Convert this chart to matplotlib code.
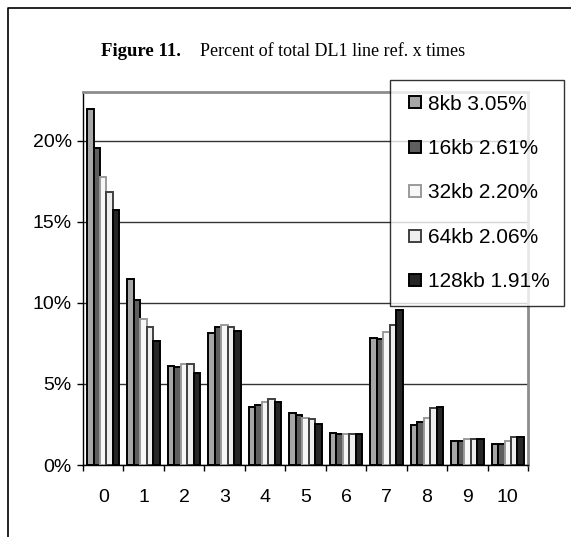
import numpy as np
import matplotlib
matplotlib.use("Agg")
import matplotlib.pyplot as plt
from matplotlib.lines import Line2D
from matplotlib.ticker import FuncFormatter

# times a DL1 line is referenced
refs = ['0', '1', '2', '3', '4', '5', '6', '7', '8', '9', '10']

labels = ['8kb 3.05%', '16kb 2.61%', '32kb 2.20%', '64kb 2.06%', '128kb 1.91%']

kb8 = [21.95, 11.45, 6.1, 8.15, 3.6, 3.2, 2.0, 7.85, 2.45, 1.5, 1.3]
kb16 = [19.55, 10.2, 6.05, 8.5, 3.7, 3.1, 1.9, 7.75, 2.65, 1.5, 1.28]
kb32 = [17.75, 9.0, 6.2, 8.65, 3.9, 2.9, 1.9, 8.2, 2.9, 1.6, 1.5]
kb64 = [16.85, 8.5, 6.25, 8.5, 4.05, 2.85, 1.9, 8.65, 3.5, 1.6, 1.7]
kb128 = [15.7, 7.65, 5.7, 8.25, 3.9, 2.55, 1.9, 9.55, 3.55, 1.6, 1.75]

series = [kb8, kb16, kb32, kb64, kb128]
faces = ['#a6a6a6', '#5e5e5e', '#f7f7f7', '#eeeeee', '#262626']
edges = ['#000000', '#000000', '#9a9a9a', '#404040', '#000000']

plt.rcParams['font.family'] = ['Liberation Sans', 'DejaVu Sans']

fig = plt.figure(figsize=(5.71, 5.37), dpi=100)
ax = fig.add_axes([83 / 571, 1 - 465 / 537, 445 / 571, 373 / 537])

x = np.arange(len(refs))
w = 0.16
for i, vals in enumerate(series):
    ax.bar(x + (i - 2) * w, vals, width=w, color=faces[i], edgecolor=edges[i],
           linewidth=1.4, zorder=3)

ax.set_xlim(-0.5, 10.5)
ax.set_ylim(0, 23)
ax.set_yticks([0, 5, 10, 15, 20])
ax.yaxis.set_major_formatter(FuncFormatter(lambda v, p: '%d%%' % v))
ax.grid(axis='y', color='#333333', linewidth=1.0, zorder=0)

# category labels in the middle, tick marks between the groups
ax.set_xticks(x)
ax.set_xticklabels(refs)
ax.set_xticks(np.arange(-0.5, 11, 1), minor=True)
ax.tick_params(axis='x', which='major', length=0, pad=17, labelsize=14)
ax.tick_params(axis='x', which='minor', length=4, width=1, direction='out')
ax.tick_params(axis='y', length=4, width=1, direction='out', pad=4, labelsize=14)

for s in ['top', 'right']:
    ax.spines[s].set_color('#8c8c8c')
    ax.spines[s].set_linewidth(2)
for s in ['left', 'bottom']:
    ax.spines[s].set_color('#000000')
    ax.spines[s].set_linewidth(1)

# title: bold figure number, plain caption
fig.text(101 / 571, 1 - 52 / 537, 'Figure 11.', family='Liberation Serif',
         weight='bold', fontsize=13.5, va='center', ha='left')
fig.text(200 / 571, 1 - 52 / 537, 'Percent of total DL1 line ref. x times',
         family='Liberation Serif', fontsize=13, va='center', ha='left')

# outer frame of the chart
fig.add_artist(Line2D([8 / 571, 8 / 571, 1], [0, 1 - 8 / 537, 1 - 8 / 537],
                      transform=fig.transFigure, color='black', linewidth=1.2))

handles = [Line2D([], [], marker='s', markersize=9, linestyle='none',
                  markerfacecolor=faces[i], markeredgecolor=edges[i],
                  markeredgewidth=1.4) for i in range(5)]
leg = fig.legend(handles, labels, loc='upper left',
                 bbox_to_anchor=(390 / 571, 1 - 80 / 537), fontsize=15,
                 frameon=True, fancybox=False, borderpad=0.7, labelspacing=1.22,
                 handlelength=1.0, handletextpad=0.1, borderaxespad=0)
leg.get_frame().set_edgecolor('black')
leg.get_frame().set_linewidth(1.0)

fig.savefig('out.png', dpi=100)
